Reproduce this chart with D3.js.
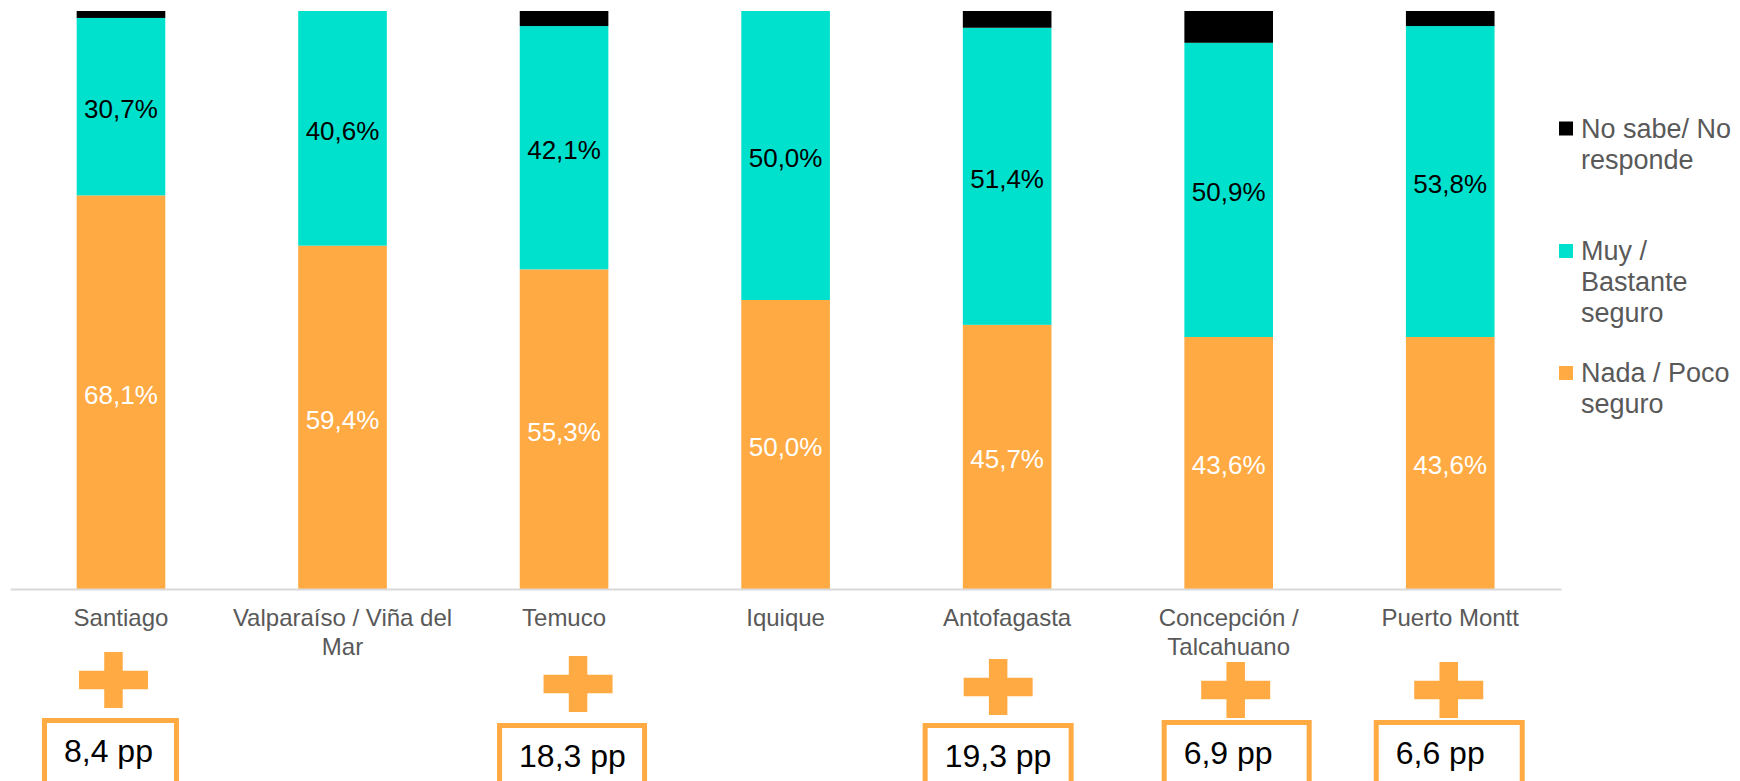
<!DOCTYPE html>
<html>
<head>
<meta charset="utf-8">
<script src="https://cdn.jsdelivr.net/npm/d3@7"></script>
<style>
  html, body { margin: 0; padding: 0; background: #fff; }
  svg { display: block; font-family: "Liberation Sans", Arial, sans-serif; }
</style>
</head>
<body>
<svg id="chart" width="1740" height="781"></svg>
<script>
// ---- data ----
const categories = ["Santiago", "Valparaíso / Viña del Mar", "Temuco", "Iquique", "Antofagasta", "Concepción / Talcahuano", "Puerto Montt"];
const nadaPoco = [68.1, 59.4, 55.3, 50.0, 45.7, 43.6, 43.6];
const muyBastante = [30.7, 40.6, 42.1, 50.0, 51.4, 50.9, 53.8];
const noSabe = [1.2, 0.0, 2.6, 0.0, 2.9, 5.5, 2.6];
const seriesNames = ["Nada / Poco seguro", "Muy / Bastante seguro", "No sabe/ No responde"];
const legendOrder = ["No sabe/ No responde", "Muy / Bastante seguro", "Nada / Poco seguro"];
const diffCategories = ["Santiago", "Temuco", "Antofagasta", "Concepción / Talcahuano", "Puerto Montt"];
const diffLabels = ["8,4 pp", "18,3 pp", "19,3 pp", "6,9 pp", "6,6 pp"];

// ---- layout / style ----
const colors = { "Nada / Poco seguro": "#FFAA42", "Muy / Bastante seguro": "#00E1CD", "No sabe/ No responde": "#000000" };
const labelColors = { "Nada / Poco seguro": "#ffffff", "Muy / Bastante seguro": "#000000" };
const annotLayout = [
  { plusDx: -7.5, plusTop: 652, boxDx: -79, boxW: 137, boxTop: 718 },
  { plusDx: 14, plusTop: 656, boxDx: -67, boxW: 150, boxTop: 723 },
  { plusDx: -9, plusTop: 659, boxDx: -84.5, boxW: 151, boxTop: 723 },
  { plusDx: 7, plusTop: 662, boxDx: -67, boxW: 150, boxTop: 720 },
  { plusDx: -1.5, plusTop: 662, boxDx: -76.5, boxW: 151, boxTop: 720 }
];
const legendY = [128.5, 251, 373];

const svg = d3.select("#chart");

const x = d3.scaleBand().domain(categories).range([10.2, 1561]).paddingInner(0.6).paddingOuter(0.3);
const y = d3.scaleLinear().domain([0, 100]).range([589, 11]);

const rows = categories.map((c, i) => ({
  cat: c,
  "Nada / Poco seguro": nadaPoco[i],
  "Muy / Bastante seguro": muyBastante[i],
  "No sabe/ No responde": noSabe[i]
}));
const stacked = d3.stack().keys(seriesNames)(rows);

// bars
const layers = svg.append("g").selectAll("g").data(stacked).join("g")
  .attr("fill", d => colors[d.key]);
layers.selectAll("rect").data(d => d).join("rect")
  .attr("x", d => x(d.data.cat))
  .attr("width", x.bandwidth())
  .attr("y", d => y(d[1]))
  .attr("height", d => Math.max(0, y(d[0]) - y(d[1])));

// value labels
const fmt = v => v.toFixed(1).replace(".", ",") + "%";
stacked.filter(s => labelColors[s.key]).forEach(s => {
  svg.append("g").selectAll("text").data(s).join("text")
    .attr("x", d => x(d.data.cat) + x.bandwidth() / 2)
    .attr("y", d => (y(d[0]) + y(d[1])) / 2 + 2.5)
    .attr("text-anchor", "middle")
    .attr("dominant-baseline", "central")
    .attr("font-size", 26)
    .attr("fill", labelColors[s.key])
    .text(d => fmt(d[1] - d[0]));
});

// axis
const xAxis = svg.append("g").attr("transform", "translate(0,589)")
  .call(d3.axisBottom(x).tickSize(0).tickSizeOuter(0).tickFormat(""));
xAxis.select(".domain").attr("stroke", "#d9d9d9").attr("stroke-width", 2);

// wrapping helper
const measurer = svg.append("text").attr("visibility", "hidden");
function wrapWords(str, maxW, size) {
  measurer.attr("font-size", size);
  const words = str.split(" ");
  const lines = [];
  let cur = "";
  words.forEach(w => {
    const test = cur ? cur + " " + w : w;
    measurer.text(test);
    if (measurer.node().getComputedTextLength() > maxW && cur) {
      lines.push(cur);
      cur = w;
    } else cur = test;
  });
  if (cur) lines.push(cur);
  return lines;
}

// category labels
categories.forEach(c => {
  const lines = wrapWords(c, 235, 24);
  const t = svg.append("text")
    .attr("x", x(c) + x.bandwidth() / 2)
    .attr("y", 626)
    .attr("text-anchor", "middle")
    .attr("font-size", 24)
    .attr("fill", "#595959");
  lines.forEach((l, i) => {
    t.append("tspan").attr("x", x(c) + x.bandwidth() / 2).attr("dy", i === 0 ? 0 : 28.5).text(l);
  });
});

// legend
legendOrder.forEach((k, i) => {
  const cy = legendY[i];
  svg.append("rect").attr("x", 1559).attr("y", cy - 7).attr("width", 14).attr("height", 14).attr("fill", colors[k]);
  const lines = wrapWords(k, 160, 27);
  const t = svg.append("text").attr("x", 1581).attr("y", cy + 9)
    .attr("font-size", 27).attr("fill", "#595959");
  lines.forEach((l, j) => {
    t.append("tspan").attr("x", 1581).attr("dy", j === 0 ? 0 : 31).text(l);
  });
});

// difference annotations
const orange = colors["Nada / Poco seguro"];
diffCategories.forEach((c, i) => {
  const L = annotLayout[i];
  const cx = x(c) + x.bandwidth() / 2;
  const pcx = cx + L.plusDx;
  const pw = 69, ph = 56, arm = 18.5;
  const g = svg.append("g").attr("fill", orange);
  g.append("rect").attr("x", pcx - pw / 2).attr("y", L.plusTop + ph / 2 - arm / 2).attr("width", pw).attr("height", arm);
  g.append("rect").attr("x", pcx - arm / 2).attr("y", L.plusTop).attr("width", arm).attr("height", ph);
  const bx = cx + L.boxDx;
  svg.append("rect")
    .attr("x", bx + 2.5).attr("y", L.boxTop + 2.5)
    .attr("width", L.boxW - 5).attr("height", 80)
    .attr("fill", "#fff").attr("stroke", orange).attr("stroke-width", 5);
  svg.append("text")
    .attr("x", bx + 22).attr("y", L.boxTop + 44)
    .attr("font-size", 32).attr("fill", "#000")
    .text(diffLabels[i]);
});
measurer.remove();
</script>
</body>
</html>
